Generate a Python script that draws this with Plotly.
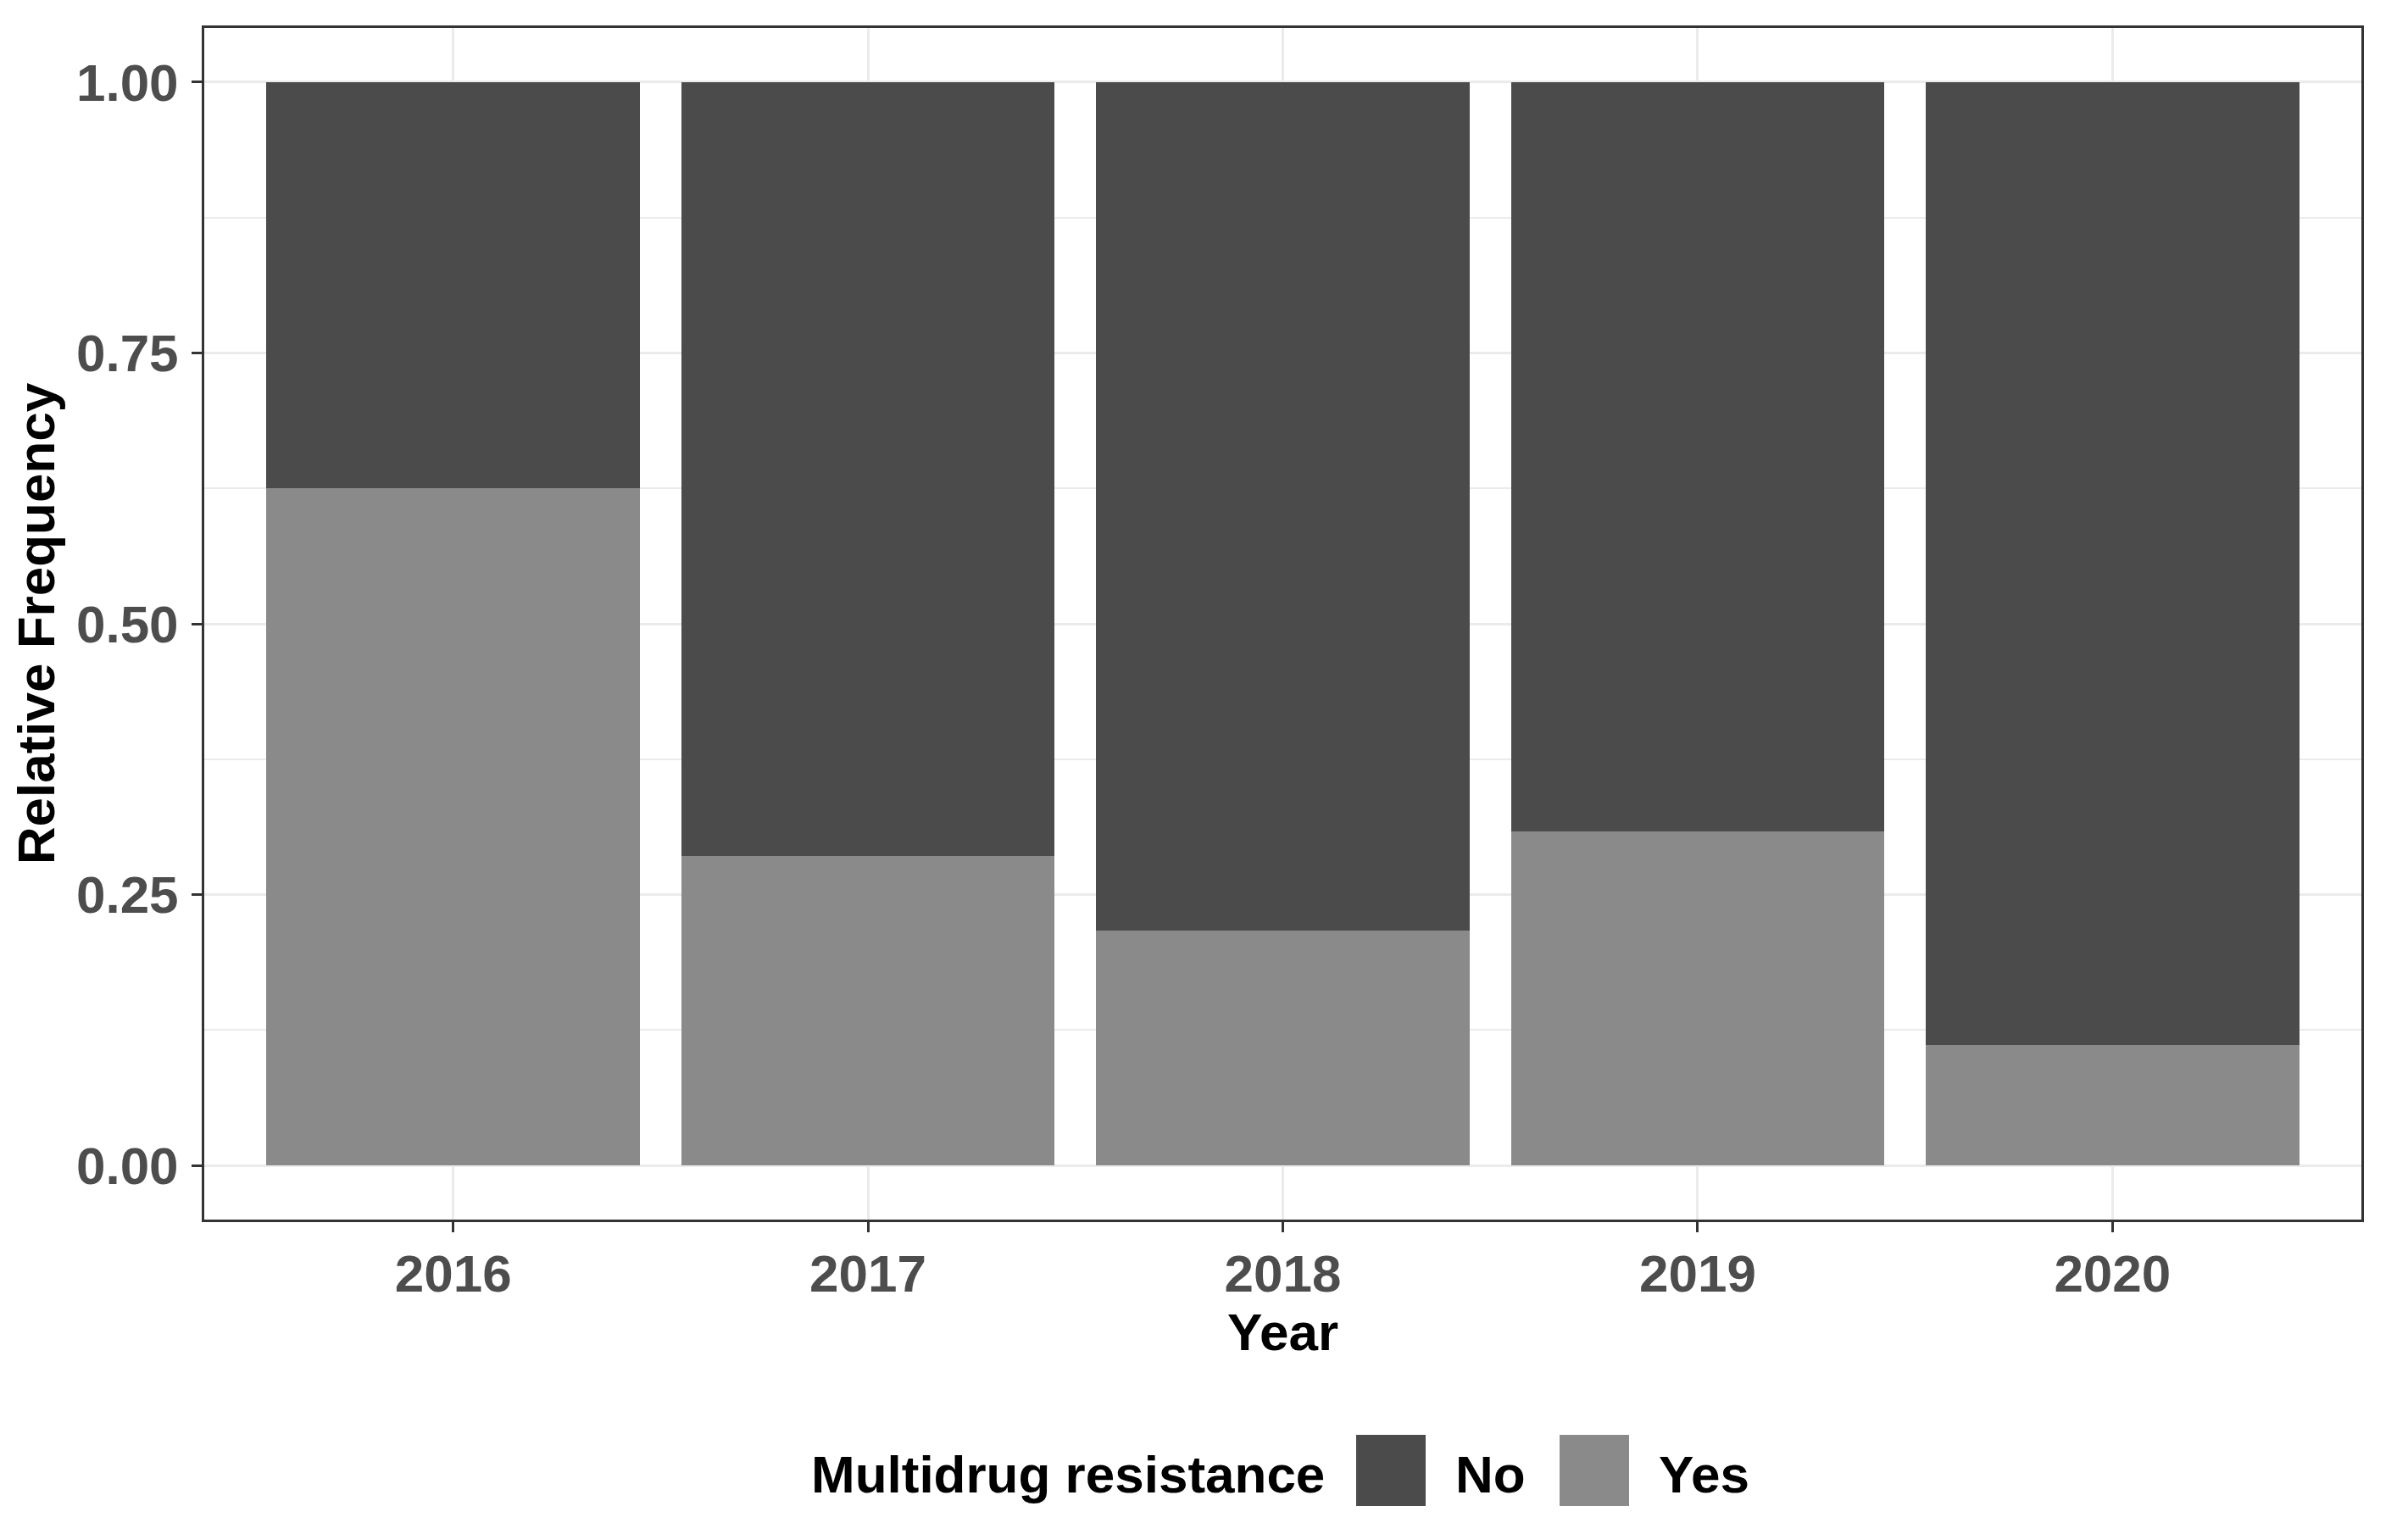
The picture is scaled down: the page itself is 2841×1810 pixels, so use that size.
import plotly.graph_objects as go

# ---------------- data ----------------
years = ["2016", "2017", "2018", "2019", "2020"]
share_no = [0.375, 0.714, 0.783, 0.692, 0.889]
share_yes = [0.625, 0.286, 0.217, 0.308, 0.111]
series_names = ["No", "Yes"]
y_tick_vals = [0.0, 0.25, 0.5, 0.75, 1.0]
y_tick_text = ["0.00", "0.25", "0.50", "0.75", "1.00"]
legend_title = "Multidrug resistance"
x_title = "Year"
y_title = "Relative Frequency"

# ---------------- style ----------------
OFF = 8                      # default page (body) margin of the html page
W, H = 2841 - OFF, 1810 - OFF
ML, MR, MT, MB = 241 - OFF, 55, 33 - OFF, 371
COL_NO = "#4B4B4B"
COL_YES = "#8A8A8A"
GRID = "#EBEBEB"
BORDER = "#333333"
TICKTXT = "#4D4D4D"
FONT = "Liberation Sans, Arial, sans-serif"
FS = 62

fig = go.Figure()
# stacked: Yes at the bottom, No on top
fig.add_trace(go.Bar(x=years, y=share_yes, name=series_names[1],
                     marker=dict(color=COL_YES, line=dict(width=0)),
                     width=0.9, showlegend=False))
fig.add_trace(go.Bar(x=years, y=share_no, name=series_names[0],
                     marker=dict(color=COL_NO, line=dict(width=0)),
                     width=0.9, showlegend=False))

fig.update_layout(
    width=W, height=H,
    margin=dict(l=ML, r=MR, t=MT, b=MB, pad=0),
    barmode="stack",
    paper_bgcolor="white", plot_bgcolor="white",
    font=dict(family=FONT, size=FS, color="black"),
    showlegend=False,
)

fig.update_xaxes(
    type="category", range=[-0.6, 4.6],
    showline=True, mirror=True, linecolor=BORDER, linewidth=3,
    showgrid=True, gridcolor=GRID, gridwidth=3,
    ticks="outside", ticklen=12, tickwidth=3, tickcolor=BORDER,
    tickfont=dict(family=FONT, size=FS, color=TICKTXT, weight="bold"),
    ticklabelstandoff=-4,
    title=dict(text=x_title, font=dict(family=FONT, size=FS, color="black", weight="bold"), standoff=12),
    zeroline=False,
)
fig.update_yaxes(
    range=[-0.05, 1.05],
    tickvals=y_tick_vals, ticktext=y_tick_text,
    showline=True, mirror=True, linecolor=BORDER, linewidth=3,
    showgrid=True, gridcolor=GRID, gridwidth=3,
    minor=dict(tick0=0.125, dtick=0.25, showgrid=True, gridcolor=GRID, gridwidth=2, ticks=""),
    ticks="outside", ticklen=12, tickwidth=3, tickcolor=BORDER,
    tickfont=dict(family=FONT, size=FS, color=TICKTXT, weight="bold"),
    ticklabelstandoff=3,
    title=dict(text=y_title, font=dict(family=FONT, size=FS, color="black", weight="bold"), standoff=15),
    zeroline=False,
)

# ---------------- custom legend (large swatches, like ggplot) ----------------
pw = W - ML - MR
ph = H - MT - MB


def px_x(p):
    return (p - OFF - ML) / pw


def px_y(p):
    return (H - MB - (p - OFF)) / ph


leg_cy = 1735          # vertical centre of the legend row (page px)
sw_w, sw_h = 82, 84    # swatch size (px)
title_left = 955
items = [(series_names[0], COL_NO, 1600), (series_names[1], COL_YES, 1840)]

fig.add_annotation(x=px_x(title_left), y=px_y(leg_cy + 4), xref="paper", yref="paper",
                   text=legend_title, showarrow=False, xanchor="left", yanchor="middle",
                   font=dict(family=FONT, size=FS, color="black", weight="bold"))
for name, col, sx in items:
    fig.add_shape(type="rect", xref="paper", yref="paper",
                  x0=px_x(sx), x1=px_x(sx + sw_w),
                  y0=px_y(leg_cy + sw_h / 2), y1=px_y(leg_cy - sw_h / 2),
                  fillcolor=col, line=dict(width=0), layer="above")
    fig.add_annotation(x=px_x(sx + sw_w + 33), y=px_y(leg_cy + 4), xref="paper", yref="paper",
                       text=name, showarrow=False, xanchor="left", yanchor="middle",
                       font=dict(family=FONT, size=FS, color="black", weight="bold"))

fig.write_html("out.html")
